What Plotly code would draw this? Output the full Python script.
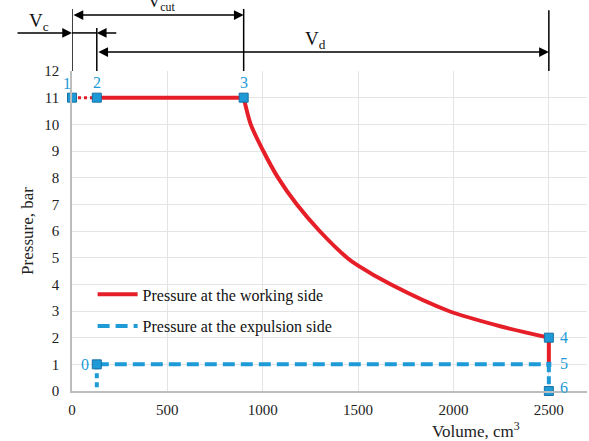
import plotly.graph_objects as go

# ---- data ----
V_intake = [130, 900]           # constant-pressure intake (solid red)
p_intake = [11, 11]
V_clear = [0, 130]              # clearance segment (dotted red)
p_clear = [11, 11]
V_exp = [900, 937, 1003, 1080, 1178, 1298, 1442, 1500, 1670, 1975, 2250, 2500]
p_exp = [11, 10, 9, 8, 7, 6, 5, 4.7, 4, 3, 2.42, 2]
V_drop = [2500, 2500]
p_drop = [2, 1]
V_back = [130, 2500]            # expulsion side pressure (dashed blue)
p_back = [1, 1]
V_b0 = [130, 130]
p_b0 = [1, 0]
V_b6 = [2500, 2500]
p_b6 = [1, 0]

pt_V = [0, 130, 900, 2500, 130, 2500]
pt_p = [11, 11, 11, 2, 1, 0]
pt_lbl = ["1", "2", "3", "4", "0", "6"]

V_c, V_cut_end, V_d_end = 130, 900, 2500

x_ticks = [0, 500, 1000, 1500, 2000, 2500]
y_ticks = list(range(0, 13))

RED = "#e61e28"
BLUE = "#1e9bd7"
FONT = "Liberation Serif"
PX = 515 / 2700  # pixels per data unit along x

fig = go.Figure()

fig.add_trace(go.Scatter(x=V_clear, y=p_clear, mode="lines",
                         line=dict(color=RED, width=3, dash="dot"), showlegend=False))
fig.add_trace(go.Scatter(x=V_intake, y=p_intake, mode="lines",
                         line=dict(color=RED, width=4), name="Pressure at the working side",
                         legendgroup="a"))
fig.add_trace(go.Scatter(x=V_exp, y=p_exp, mode="lines",
                         line=dict(color=RED, width=4, shape="spline", smoothing=0.8),
                         showlegend=False))
fig.add_trace(go.Scatter(x=V_drop, y=p_drop, mode="lines",
                         line=dict(color=RED, width=4), showlegend=False))
fig.add_trace(go.Scatter(x=V_back, y=p_back, mode="lines",
                         line=dict(color=BLUE, width=4, dash="12px,6px"),
                         name="Pressure at the expulsion side", legendgroup="b"))
fig.add_trace(go.Scatter(x=V_b0, y=p_b0, mode="lines",
                         line=dict(color=BLUE, width=4, dash="5px,4px"), showlegend=False))
fig.add_trace(go.Scatter(x=V_b6, y=p_b6, mode="lines",
                         line=dict(color=BLUE, width=4, dash="8px,4px"), showlegend=False))
fig.add_trace(go.Scatter(x=pt_V, y=pt_p, mode="markers",
                         marker=dict(symbol="square", size=9, color=BLUE,
                                     line=dict(color="#176fa3", width=1)),
                         showlegend=False, cliponaxis=False))
fig.add_trace(go.Scatter(x=[2500], y=[1], mode="markers",
                         marker=dict(symbol="square", size=5, color=BLUE),
                         showlegend=False))

# point labels
lbl_pos = {
    "1": dict(xshift=-5, yshift=14),
    "2": dict(xshift=0, yshift=15),
    "3": dict(xshift=0, yshift=15),
    "4": dict(xshift=15, yshift=0),
    "0": dict(xshift=-12, yshift=0),
    "6": dict(xshift=15, yshift=4),
}
for v, p, t in zip(pt_V, pt_p, pt_lbl):
    fig.add_annotation(x=v, y=p, text=t, showarrow=False, xanchor="center", yanchor="middle",
                       font=dict(family=FONT, size=16, color=BLUE), **lbl_pos[t])
fig.add_annotation(x=2500, y=1, text="5", showarrow=False, xanchor="center", yanchor="middle",
                   font=dict(family=FONT, size=16, color=BLUE), xshift=15, yshift=1)

# dimension lines above the plot
shapes = []
for v, ytop in [(0, 1.194), (V_c, 1.134), (V_cut_end, 1.194), (V_d_end, 1.19)]:
    shapes.append(dict(type="line", xref="x", yref="paper", x0=v, x1=v, y0=1.0, y1=ytop,
                       line=dict(color="black", width=1.5)))
shapes.append(dict(type="line", xref="x", yref="paper", x0=0, x1=V_c, y0=1.119, y1=1.119,
                   line=dict(color="black", width=1.5)))
fig.update_layout(shapes=shapes)

arrow_kw = dict(showarrow=True, arrowhead=2, arrowsize=1.3, arrowwidth=1.5,
                arrowcolor="black", text="", yref="paper", axref="pixel", ayref="pixel", ay=0)
# V_cut double arrow
fig.add_annotation(x=V_cut_end, y=1.175, ax=-(V_cut_end - 0) * PX, arrowside="end+start",
                   **arrow_kw)
# V_c arrows
fig.add_annotation(x=0, y=1.119, ax=-56, **arrow_kw)
fig.add_annotation(x=V_c, y=1.119, ax=21, **arrow_kw)
# V_d double arrow
fig.add_annotation(x=V_d_end, y=1.059, ax=-(V_d_end - V_c) * PX, arrowside="end+start",
                   **arrow_kw)

lab_font = dict(family=FONT, size=19, color="#111")
fig.add_annotation(xref="paper", yref="paper", x=(162 - 72) / 515, y=(391 - 3) / 320,
                   xanchor="center", yanchor="middle", text="V<sub>cut</sub>", showarrow=False,
                   font=dict(family=FONT, size=17, color="#111"))
fig.add_annotation(xref="paper", yref="paper", x=(39 - 72) / 515, y=(391 - 22) / 320,
                   xanchor="center", yanchor="middle",
                   text="V<sub>c</sub>", showarrow=False, font=lab_font)
fig.add_annotation(xref="paper", yref="paper", x=(315 - 72) / 515, y=(391 - 40) / 320,
                   xanchor="center", yanchor="middle",
                   text="V<sub>d</sub>", showarrow=False, font=lab_font)

# x axis title
fig.add_annotation(xref="paper", yref="paper", x=(476 - 72) / 515, y=(391 - 430) / 320,
                   xanchor="center", yanchor="middle",
                   text="Volume, cm<sup>3</sup>", showarrow=False,
                   font=dict(family=FONT, size=17, color="#222"))

fig.update_xaxes(range=[0, 2700], tickvals=x_ticks, ticktext=[str(t) for t in x_ticks],
                 showgrid=True, gridcolor="#e4e4e4", gridwidth=1, automargin=False,
                 showline=True, linecolor="#bdbdbd", linewidth=1.5,
                 ticks="outside", ticklen=4, tickcolor="rgba(0,0,0,0)",
                 tickfont=dict(family=FONT, size=15, color="#222"), zeroline=False)
fig.update_yaxes(range=[0, 12], tickvals=y_ticks, showgrid=True, gridcolor="#e4e4e4",
                 gridwidth=1, showline=True, linecolor="#bdbdbd", linewidth=1.5,
                 automargin=False,
                 ticks="outside", ticklen=8, tickcolor="rgba(0,0,0,0)",
                 tickfont=dict(family=FONT, size=15, color="#222"), zeroline=False,
                 title=dict(text="Pressure, bar", font=dict(family=FONT, size=17, color="#222"),
                            standoff=6))

fig.update_layout(
    width=589, height=441,
    font=dict(family=FONT),
    margin=dict(l=72, r=2, t=71, b=50, autoexpand=False),
    plot_bgcolor="white", paper_bgcolor="white",
    legend=dict(x=0.04, y=0.355, xanchor="left", yanchor="top",
                font=dict(family=FONT, size=16, color="#111"),
                bgcolor="rgba(0,0,0,0)", tracegroupgap=8, itemwidth=40),
)

fig.write_html("out.html", config={"displayModeBar": False},
               post_script="document.body.style.margin='0';document.body.style.overflow='hidden';")
